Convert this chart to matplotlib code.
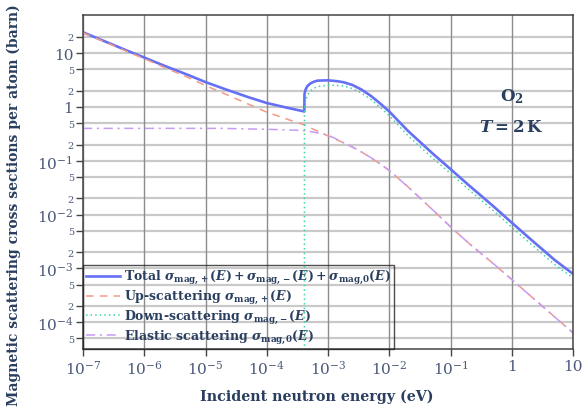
import matplotlib
matplotlib.use("Agg")
import matplotlib.pyplot as plt
import numpy as np
from matplotlib.ticker import FixedLocator, FixedFormatter

# incident energy (eV) and cross sections (barn)
energy = [1e-7, 2e-7, 5e-7, 1e-6, 2e-6, 5e-6, 1e-5, 2e-5, 5e-5, 1e-4, 2e-4, 3e-4,
          4.1e-4, 4.12e-4, 4.3e-4, 4.6e-4, 5.2e-4, 5.9e-4, 6.7e-4, 1e-3, 1.4e-3, 1.8e-3,
          2.5e-3, 3.5e-3, 5e-3, 7e-3, 1e-2, 2e-2, 5e-2, 0.1, 0.2, 0.5, 1, 2, 5, 10]
up = [24.1, 17.2, 11.0, 7.9, 5.6, 3.6, 2.5, 1.78, 1.13, 0.80, 0.61, 0.52,
      0.465, 0.464, 0.455, 0.44, 0.41, 0.38, 0.355, 0.29, 0.245, 0.215,
      0.18, 0.146, 0.114, 0.088, 0.066, 0.033, 0.0125, 0.0059, 0.0029, 0.00122, 0.00062, 0.00031, 0.000125, 0.000063]
down = [0, 0, 0, 0, 0, 0, 0, 0, 0, 0, 0, 0,
        0, 0.9, 1.3, 1.65, 2.0, 2.23, 2.4, 2.54, 2.52, 2.45,
        2.2, 1.82, 1.38, 1.0, 0.69, 0.296, 0.114, 0.058, 0.029, 0.0118, 0.0058, 0.0029, 0.00118, 0.00066]
elastic = [0.40, 0.40, 0.40, 0.40, 0.40, 0.40, 0.40, 0.40, 0.39, 0.385, 0.375, 0.37,
           0.36, 0.36, 0.358, 0.355, 0.35, 0.34, 0.33, 0.30, 0.25, 0.215,
           0.18, 0.146, 0.114, 0.088, 0.066, 0.033, 0.0125, 0.0059, 0.0029, 0.00122, 0.00062, 0.00031, 0.000125, 0.000063]

x_major = [1e-7, 1e-6, 1e-5, 1e-4, 1e-3, 1e-2, 1e-1, 1, 10]
x_labels = ['$\\mathdefault{10^{-7}}$', '$\\mathdefault{10^{-6}}$', '$\\mathdefault{10^{-5}}$',
            '$\\mathdefault{10^{-4}}$', '$\\mathdefault{10^{-3}}$', '$\\mathdefault{10^{-2}}$',
            '$\\mathdefault{10^{-1}}$', '1', '10']
y_major = [1e-4, 1e-3, 1e-2, 1e-1, 1, 10]
y_labels = ['$\\mathdefault{10^{-4}}$', '$\\mathdefault{10^{-3}}$', '$\\mathdefault{10^{-2}}$',
            '$\\mathdefault{10^{-1}}$', '1', '10']
y_minor = [5e-5, 2e-4, 5e-4, 2e-3, 5e-3, 2e-2, 5e-2, 0.2, 0.5, 2, 5, 20]
y_minor_labels = ['5', '2', '5', '2', '5', '2', '5', '2', '5', '2', '5', '2']

plt.rcParams['font.family'] = ['DejaVu Serif']
plt.rcParams['mathtext.fontset'] = 'custom'
plt.rcParams['mathtext.rm'] = 'DejaVu Serif:bold'
plt.rcParams['mathtext.it'] = 'DejaVu Serif:italic:bold'
plt.rcParams['mathtext.bf'] = 'DejaVu Serif:bold'

navy = '#2a3f5f'
tick_col = '#4a5878'

energy = np.array(energy)
up = np.array(up)
down = np.array(down)
elastic = np.array(elastic)
total = up + down + elastic

fig = plt.figure(figsize=(5.83, 4.10), dpi=100)
ax = fig.add_axes([0.1424, 0.1463, 0.8406, 0.8147])
ax.set_xscale('log')
ax.set_yscale('log')
ax.set_xlim(1e-7, 10)
ax.set_ylim(10**-4.5, 10**1.71)

for yv in y_major + y_minor:
    ax.axhline(yv, color='#c9c9c9', lw=1.6, zorder=0)
for xv in x_major:
    ax.axvline(xv, color='#8c8c8c', lw=1.0, zorder=0)

ax.plot(energy, total, color='#6570f5', lw=1.9,
        label='Total $\\sigma_{\\mathrm{mag,\\!+}}(E) + \\sigma_{\\mathrm{mag,\\!-}}(E) + \\sigma_{\\mathrm{mag,\\!0}}(E)$')
ax.plot(energy, up, color='#f29a86', lw=1.1, dashes=(5, 4), label='Up-scattering $\\sigma_{\\mathrm{mag,\\!+}}(E)$')
ax.plot(energy, down, color='#3ad6a8', lw=1.1, dashes=(1, 2), label='Down-scattering $\\sigma_{\\mathrm{mag,\\!-}}(E)$')
ax.plot(energy, elastic, color='#c79bf7', lw=1.1, dashes=(6, 3, 1.5, 3), label='Elastic scattering $\\sigma_{\\mathrm{mag,\\!0}}(E)$')

ax.xaxis.set_major_locator(FixedLocator(x_major))
ax.xaxis.set_major_formatter(FixedFormatter(x_labels))
ax.xaxis.set_minor_locator(FixedLocator([]))
ax.yaxis.set_major_locator(FixedLocator(y_major))
ax.yaxis.set_major_formatter(FixedFormatter(y_labels))
ax.yaxis.set_minor_locator(FixedLocator(y_minor))
ax.yaxis.set_minor_formatter(FixedFormatter(y_minor_labels))
ax.tick_params(axis='both', which='major', direction='out', length=5, width=1,
               color='#444444', labelcolor=tick_col, labelsize=11, pad=2)
ax.tick_params(axis='y', which='minor', direction='out', length=5, width=1,
               color='#444444', labelcolor=tick_col, labelsize=7, pad=1.5)

for s in ax.spines.values():
    s.set_color('#444444')
    s.set_linewidth(1.1)

ax.set_xlabel('Incident neutron energy (eV)', fontsize=10.3, fontweight='bold', color=navy)
ax.set_ylabel('Magnetic scattering cross sections per atom (barn)', fontsize=10, fontweight='bold', color=navy)
ax.xaxis.set_label_coords(0.476, -0.118)
ax.yaxis.set_label_coords(-0.127, 0.434)

ax.text(1, 1.6, '$\\mathrm{O_2}$', fontsize=12, color=navy, ha='center', va='center')
ax.text(1, 0.43, '$T = 2\\,\\mathrm{K}$', fontsize=12, color=navy, ha='center', va='center')

leg = ax.legend(loc='lower left', bbox_to_anchor=(0, 0), borderaxespad=0, fontsize=9,
                frameon=True, fancybox=False, handlelength=2.7, handletextpad=0.3,
                labelspacing=0.15, borderpad=0.25)
leg.get_frame().set_facecolor('none')
leg.get_frame().set_edgecolor('#222222')
leg.get_frame().set_linewidth(1.0)
for t in leg.get_texts():
    t.set_color(navy)
    t.set_fontweight('bold')

plt.savefig('out.png', dpi=100)
